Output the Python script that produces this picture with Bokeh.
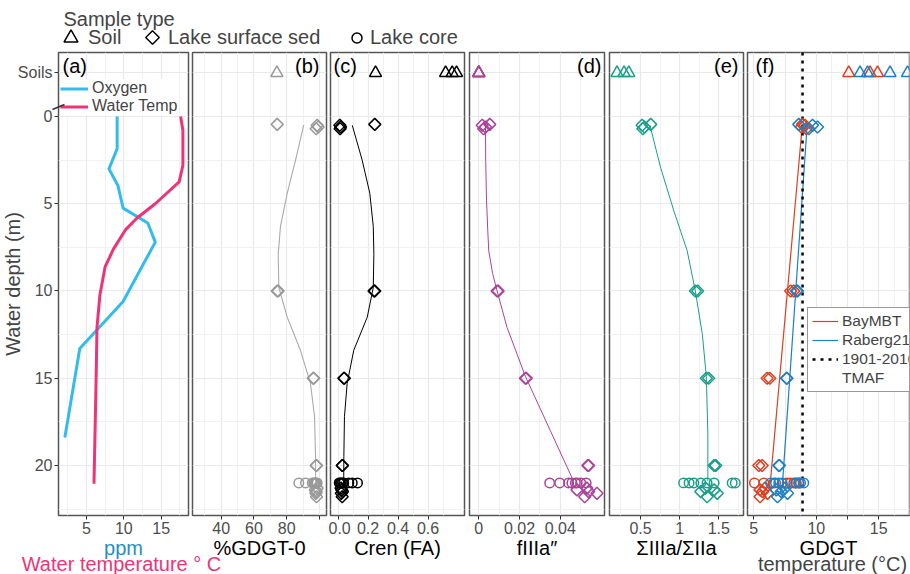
import numpy as np
from bokeh.plotting import figure
from bokeh.layouts import row, column
from bokeh.models import Range1d, FixedTicker, Legend, LegendItem, Label
from bokeh.core.properties import value
from bokeh.embed import file_html
from bokeh.resources import INLINE

FONT = "Liberation Sans"

# ---------------- data ----------------
# water column profile (panel a)
oxy_depth = [0.0, 1.85, 3.0, 3.95, 5.25, 6.1, 7.2, 10.6, 13.3, 18.4]
oxygen_ppm = [9.1, 9.1, 8.0, 9.2, 9.9, 13.2, 14.2, 9.9, 4.1, 2.1]
temp_depth = [0.0, 0.8, 2.8, 3.75, 5.0, 5.8, 6.5, 7.6, 8.6, 10.2, 12.1, 14.7, 21.05]
water_temp = [17.6, 17.9, 17.9, 17.4, 14.2, 11.8, 10.2, 8.6, 7.5, 6.8, 6.4, 6.3, 6.0]

# sample depths (m); soils are plotted on their own row above the water column
SOIL_ROW = -2.5
surf_depth = [0.45, 0.5, 0.6, 0.7, 10.0, 10.0, 15.0, 15.0, 20.0, 20.0,
              21.3, 21.4, 21.5, 21.6, 21.8]
core_depth = [21.0, 21.0, 21.0, 21.0, 21.0, 21.0, 21.0, 21.0]

# %GDGT-0
gdgt0_soil = [74.0]
gdgt0_surf = [74.2, 98.6, 99.2, 98.0, 74.2, 74.8, 96.2, 96.5, 98.0, 98.2,
              98.6, 97.5, 98.0, 97.8, 98.2]
gdgt0_core = [87.4, 91.5, 95.6, 96.5, 97.5, 98.0, 98.6, 97.0]

# Cren (fractional abundance)
cren_soil = [0.25, 0.717, 0.761, 0.79]
cren_surf = [0.245, 0.012, 0.017, 0.014, 0.245, 0.24, 0.039, 0.042, 0.028, 0.03,
             0.02, 0.025, 0.03, 0.022, 0.028]
cren_core = [0.008, 0.015, 0.022, 0.03, 0.038, 0.072, 0.095, 0.13]

# fIIIa''
f3a_soil = [0.0, 0.0, 0.0, 0.0]
f3a_surf = [0.0054, 0.0017, 0.0033, 0.0024, 0.009, 0.0095, 0.0229, 0.0233, 0.0539, 0.0535,
            0.053, 0.0482, 0.0539, 0.058, 0.052]
f3a_core = [0.0348, 0.0397, 0.0441, 0.0457, 0.0474, 0.0482, 0.050, 0.0527]

# sum IIIa / sum IIa
ratio_soil = [0.2, 0.29, 0.35]
ratio_surf = [0.63, 0.52, 0.55, 0.53, 1.2, 1.23, 1.34, 1.37, 1.44, 1.46,
              1.33, 1.44, 1.27, 1.48, 1.35]
ratio_core = [1.05, 1.12, 1.18, 1.27, 1.35, 1.44, 1.67, 1.71]

# GDGT temperatures (deg C)
baymbt_soil = [12.6, 14.3, 14.9]
baymbt_surf = [8.9, 9.1, 8.8, 9.2, 7.95, 8.2, 6.07, 6.28, 5.4, 5.67,
               5.9, 5.5, 5.7, 6.1, 5.5]
baymbt_core = [5.05, 5.8, 6.6, 7.67, 7.94, 8.2, 8.4, 8.6]
raberg_soil = [13.5, 14.1, 15.9, 17.3]
raberg_surf = [8.6, 9.7, 10.1, 9.4, 8.42, 8.5, 7.62, 7.65, 7.0, 7.05,
               7.5, 6.8, 7.2, 7.7, 6.9]
raberg_core = [6.34, 6.74, 7.0, 7.27, 8.34, 8.6, 8.74, 9.0]
tmaf = 8.9

# smoothed depth trends
smooth_depth = [0.5, 2.5, 4.4, 6.3, 7.9, 9.8, 11.5, 13.4, 15.3, 17.2, 19.5, 21.0]
gdgt0_smooth = [90.4, 85.4, 80.3, 76.2, 74.8, 75.2, 80.3, 88.4, 94.5, 97.0, 97.6, 97.7]
cren_smooth = [0.095, 0.161, 0.212, 0.235, 0.239, 0.235, 0.195, 0.105, 0.061, 0.043, 0.039, 0.038]
f3a_smooth_depth = [0.6, 2.5, 4.8, 6.5, 7.7, 9.0, 10.0, 12.1, 14.9, 18.0, 20.9]
f3a_smooth = [0.0033, 0.0034, 0.0038, 0.0044, 0.0049, 0.0068, 0.009, 0.0139, 0.0229, 0.0351, 0.0465]
ratio_smooth_depth = [0.5, 2.9, 5.4, 7.7, 10.0, 12.5, 14.9, 18.2, 20.9]
ratio_smooth = [0.62, 0.755, 0.925, 1.096, 1.20, 1.29, 1.34, 1.36, 1.36]
fit_depth = [0.5, 21.0]
baymbt_fit = [8.88, 6.32]
raberg_fit = [9.27, 7.3]

# ---------------- styling ----------------
Y_TOP, Y_BOTTOM = -3.67, 22.87
FRAME_H = 463
TOP_PAD = 52
BOTTOM_PAD = 59
GRID_MAJOR = "#e9e9e9"
GRID_MINOR = "#f1f1f1"
OXY_COL, TEMP_COL = "#33BBEE", "#EE3377"
GREY, PURPLE, TEAL = "#999999", "#AA4499", "#1a9e8a"
RED, BLUE = "#D94123", "#1f7fc4"
TITLE_SIZE = "20px"
TICK_SIZE = "16px"

y_ticker = FixedTicker(ticks=[SOIL_ROW, 0, 5, 10, 15, 20],
                       minor_ticks=[2.5, 7.5, 12.5, 17.5, 22.5])


def style_axis(ax, label, color="black"):
    ax.axis_label = label
    ax.axis_label_text_font = FONT
    ax.axis_label_text_font_size = TITLE_SIZE
    ax.axis_label_text_font_style = "normal"
    ax.axis_label_text_color = color
    ax.axis_label_standoff = 0
    ax.major_label_text_font = FONT
    ax.major_label_text_font_size = TICK_SIZE
    ax.major_label_text_color = "#4d4d4d"
    ax.major_label_standoff = 2
    ax.axis_line_color = None
    ax.major_tick_in = 0
    ax.major_tick_out = 4
    ax.major_tick_line_color = "#333333"
    ax.minor_tick_line_color = None


def panel(xr, frame_w, left, right, ticks, minor, overrides, xlabel, label_color="black"):
    p = figure(frame_width=frame_w, frame_height=FRAME_H,
               x_range=Range1d(*xr), y_range=Range1d(Y_BOTTOM, Y_TOP),
               min_border_left=left, min_border_right=right,
               min_border_top=TOP_PAD, min_border_bottom=BOTTOM_PAD,
               output_backend="svg", toolbar_location=None, tools="")
    p.outline_line_color = "#555555"
    p.outline_line_width = 1.5
    p.border_fill_color = "white"
    xt = FixedTicker(ticks=ticks, minor_ticks=minor)
    p.xaxis.ticker = xt
    p.xaxis.major_label_overrides = overrides
    style_axis(p.xaxis[0], xlabel, label_color)
    p.xgrid.ticker = xt
    p.ygrid.ticker = y_ticker
    for g in (p.xgrid[0], p.ygrid[0]):
        g.grid_line_color = GRID_MAJOR
        g.grid_line_width = 1.2
        g.minor_grid_line_color = GRID_MINOR
        g.minor_grid_line_width = 1.0
    p.yaxis.visible = False
    return p


def tag(p, text, side, offset):
    xr = p.x_range
    x = xr.start if side == "left" else xr.end
    p.add_layout(Label(x=x, y=Y_TOP, text=text, x_offset=offset, y_offset=-2,
                       text_align=side, text_baseline="top",
                       text_font=FONT, text_font_size="20px", text_color="black"))


def samples(p, soil, surf, core, color):
    p.scatter(soil, [SOIL_ROW] * len(soil), marker="triangle", size=12,
              fill_color=None, line_color=color, line_width=1.5)
    p.scatter(surf, surf_depth, marker="square", angle=np.pi / 4, size=8.5,
              fill_color=None, line_color=color, line_width=1.5)
    p.scatter(core, core_depth, marker="circle", size=9.5,
              fill_color=None, line_color=color, line_width=1.5)


# (a) water column
pa = panel((1.25, 18.65), 130, 58, 2, [5, 10, 15], [2.5, 7.5, 12.5, 17.5], {},
           "ppm", "#1f8fc4")
pa.yaxis.visible = True
pa.yaxis.ticker = FixedTicker(ticks=[SOIL_ROW, 0, 5, 10, 15, 20])
pa.yaxis.major_label_overrides = {SOIL_ROW: "Soils"}
style_axis(pa.yaxis[0], None)
pa.yaxis.major_label_standoff = 2
r_oxy = pa.line(oxygen_ppm, oxy_depth, line_color=OXY_COL, line_width=3, line_join="round")
r_temp = pa.line(water_temp, temp_depth, line_color=TEMP_COL, line_width=3, line_join="round")
leg_a = Legend(items=[LegendItem(label=value("Oxygen"), renderers=[r_oxy]),
                      LegendItem(label=value("Water Temp"), renderers=[r_temp])],
               location=(2, 400), padding=3, spacing=0, margin=0,
               glyph_width=28, glyph_height=17, label_height=17, label_standoff=4,
               label_text_font=FONT, label_text_font_size="16px",
               background_fill_color="white", background_fill_alpha=1.0,
               border_line_color=None)
pa.add_layout(leg_a)
tag(pa, "(a)", "left", 4)

# (b) %GDGT-0
pb = panel((22.48, 104.3), 134, 2, 2, [40, 60, 80, 100], [30, 50, 70, 90],
           {100: ""}, "%GDGT-0")
pb.line(gdgt0_smooth, smooth_depth, line_color="#aaaaaa", line_width=1.1)
samples(pb, gdgt0_soil, gdgt0_surf, gdgt0_core, GREY)
tag(pb, "(b)", "right", -7)

# (c) Cren
pc = panel((-0.05, 0.843), 134, 2, 2, [0, 0.2, 0.4, 0.6], [0.1, 0.3, 0.5, 0.7],
           {0: "0.0"}, "Cren (FA)")
pc.line(cren_smooth, smooth_depth, line_color="black", line_width=1.0)
samples(pc, cren_soil, cren_surf, cren_core, "black")
tag(pc, "(c)", "left", 3)

# (d) fIIIa''
pd = panel((-0.00455, 0.0617), 135, 3, 2, [0, 0.02, 0.04], [0.01, 0.03, 0.05],
           {}, "fIIIa\u2033")
pd.line(f3a_smooth, f3a_smooth_depth, line_color=PURPLE, line_width=1.0)
samples(pd, f3a_soil, f3a_surf, f3a_core, PURPLE)
tag(pd, "(d)", "right", -3)

# (e) sum IIIa / sum IIa
pe = panel((0.104, 1.815), 134, 3, 2, [0.5, 1.0, 1.5], [0.25, 0.75, 1.25, 1.75],
           {}, "\u03a3IIIa/\u03a3IIa")
pe.line(ratio_smooth, ratio_smooth_depth, line_color=TEAL, line_width=1.0)
samples(pe, ratio_soil, ratio_surf, ratio_core, TEAL)
tag(pe, "(e)", "right", -5)

# (f) GDGT temperatures
pf = panel((4.496, 17.46), 162, 2, 1, [5, 7.5, 10, 12.5, 15, 17.5],
           [6.25, 8.75, 11.25, 13.75, 16.25], {7.5: "", 12.5: "", 17.5: ""}, "GDGT")
r_bay = pf.line(baymbt_fit, fit_depth, line_color=RED, line_width=1.2)
r_rab = pf.line(raberg_fit, fit_depth, line_color=BLUE, line_width=1.2)
r_tmaf = pf.line([tmaf, tmaf], [Y_TOP, Y_BOTTOM], line_color="black",
                 line_width=2.5, line_dash="3 5")
r_blank = pf.line([np.nan], [np.nan], line_alpha=0)
samples(pf, baymbt_soil, baymbt_surf, baymbt_core, RED)
samples(pf, raberg_soil, raberg_surf, raberg_core, BLUE)
leg_f = Legend(items=[LegendItem(label=value("BayMBT"), renderers=[r_bay]),
                      LegendItem(label=value("Raberg21"), renderers=[r_rab]),
                      LegendItem(label=value("1901-2016"), renderers=[r_tmaf]),
                      LegendItem(label=value("TMAF"), renderers=[r_blank])],
               location=(60, 123), padding=4, spacing=1, margin=0,
               glyph_width=26, glyph_height=18, label_height=18, label_standoff=4,
               label_text_font=FONT, label_text_font_size="15.5px",
               background_fill_color="white", background_fill_alpha=1.0,
               border_line_color="#333333", border_line_width=1)
pf.add_layout(leg_f)
tag(pf, "(f)", "left", 8)

# ---------------- overlay: shared titles and sample-type key ----------------
ov = figure(width=910, height=574, x_range=Range1d(0, 910), y_range=Range1d(574, 0),
            min_border=0, output_backend="svg", toolbar_location=None, tools="")
ov.axis.visible = False
ov.grid.visible = False
ov.outline_line_color = None
ov.background_fill_alpha = 0
ov.border_fill_alpha = 0
ov.styles = {"position": "absolute", "top": "0px", "left": "0px",
             "width": "910px", "height": "574px"}

# key glyphs only (no points inside the overlay)
k_soil = ov.scatter([np.nan], [np.nan], marker="triangle", fill_color=None,
                    line_color="black", line_width=1.5)
k_surf = ov.scatter([np.nan], [np.nan], marker="square", fill_color=None,
                    line_color="black", line_alpha=0)
k_core = ov.scatter([np.nan], [np.nan], marker="circle", fill_color=None,
                    line_color="black", line_width=1.5)


def key(item, box, loc, standoff):
    ov.add_layout(Legend(items=[item], location=loc, padding=0, margin=0, spacing=0,
                         glyph_width=box, glyph_height=box, label_height=22,
                         label_standoff=standoff, label_text_font=FONT,
                         label_text_font_size=TITLE_SIZE, background_fill_alpha=0,
                         border_line_color=None))


key(LegendItem(label=value("Soil"), renderers=[k_soil]), 35, (53, 519), 0)
key(LegendItem(label=value("Lake surface sed"), renderers=[k_surf]), 24, (140, 525), 4)
key(LegendItem(label=value("Lake core"), renderers=[k_core]), 25, (344, 524), 1)
# the rotated-square key symbol for surface sediments (legend keys ignore marker angle)
ov.scatter([152], [37], marker="square", angle=np.pi / 4, size=9.6, fill_color=None,
           line_color="black", line_width=1.5)

ov.add_layout(Label(x=63, y=18, text="Sample type", text_baseline="middle",
                    text_font=FONT, text_font_size=TITLE_SIZE))
ov.add_layout(Label(x=12, y=283.5, text="Water depth (m)", angle=np.pi / 2,
                    text_align="center", text_baseline="middle",
                    text_font=FONT, text_font_size=TITLE_SIZE))
ov.add_layout(Label(x=121, y=563, text="Water temperature \u00b0 C", text_align="center",
                    text_baseline="middle", text_color=TEMP_COL,
                    text_font=FONT, text_font_size=TITLE_SIZE))
ov.add_layout(Label(x=832, y=563, text="temperature (\u00b0C)", text_align="center",
                    text_baseline="middle", text_font=FONT, text_font_size=TITLE_SIZE))
# axis break between the soil row and the water column
ov.segment(x0=[52], y0=[109], x1=[64], y1=[104], line_color="#333333", line_width=1.5)

layout = column(row(pa, pb, pc, pd, pe, pf), ov)
open("out.html", "w").write(file_html(layout, INLINE))
